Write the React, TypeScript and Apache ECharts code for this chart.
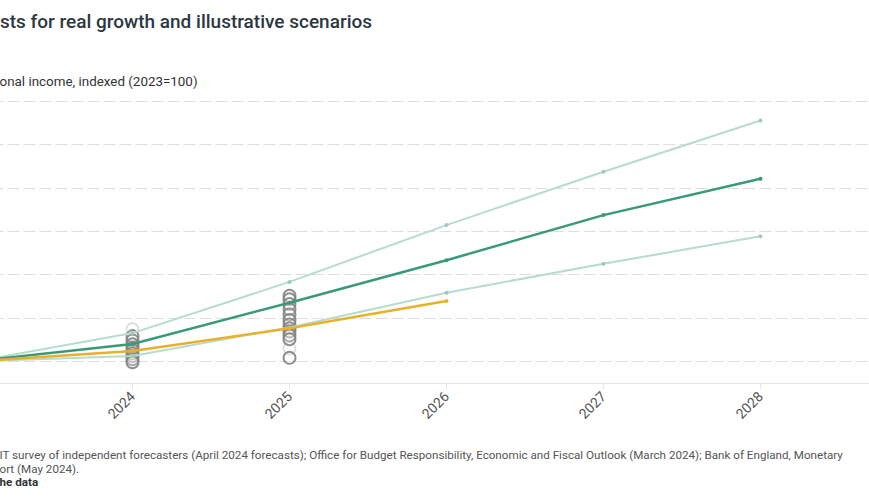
import React, { useEffect, useRef } from "react";
import * as echarts from "echarts";

// ---- Data (index, 2023 = 100) ----
const years = [2023, 2024, 2025, 2026, 2027, 2028];
const upperScenario = [100, 100.65, 101.83, 103.14, 104.37, 105.55];
const centralScenario = [100, 100.4, 101.35, 102.33, 103.37, 104.21];
const lowerScenario = [100, 100.12, 100.78, 101.58, 102.25, 102.88];
const officialYears = [2023, 2024, 2025, 2026];
const officialForecast = [100, 100.24, 100.76, 101.39];

const independent2024 = [100.58, 100.48, 100.39, 100.32, 100.25, 100.18, 100.12, 100.05, 99.98];
const independent2025 = [101.51, 101.43, 101.32, 101.2, 101.08, 100.95, 100.85, 100.76, 100.69, 100.6, 100.51, 100.08];
const faint2024 = [100.74];
const faint2025 = [100.3];

const xTicks = [2023, 2024, 2025, 2026, 2027, 2028, 2029];
const labelledYears = [2024, 2025, 2026, 2027, 2028];

// Visible parts of the texts (the picture is cropped on its left side)
const TITLE = "sts for real growth and illustrative scenarios";
const SUBTITLE = "onal income, indexed (2023=100)";
const SOURCE_1 =
  "IT survey of independent forecasters (April 2024 forecasts); Office for Budget Responsibility, Economic and Fiscal Outlook (March 2024); Bank of England, Monetary";
const SOURCE_2 = "ort (May 2024).";
const SOURCE_3 = "he data";

// The plot extends past the left and right edges of the picture.
const CROP_LEFT = 120;
const CHART_WIDTH = 1120;

const C_CENTRAL = "#3a9a77";
const C_LIGHT = "#b7dccb";
const C_LIGHT_DOT = "#9ecbb6";
const C_YELLOW = "#e8b12c";

export default function App() {
  const ref = useRef<HTMLDivElement>(null);

  useEffect(() => {
    if (!ref.current) return;
    const chart = echarts.init(ref.current, null, { renderer: "svg" });
    const pairs = (xs: number[], ys: number[]) => xs.map((x, i) => [x, ys[i]]);
    chart.setOption({
      animation: false,
      textStyle: { fontFamily: "Roboto" },
      grid: { left: 95.5, top: 101, width: 942, height: 282 },
      xAxis: {
        type: "value",
        min: xTicks[0],
        max: xTicks[xTicks.length - 1],
        interval: 1,
        axisLine: { show: true, lineStyle: { color: "#e4e4e4", width: 1 } },
        axisTick: { show: true, length: 6, lineStyle: { color: "#e4e4e4" } },
        splitLine: { show: false },
        axisLabel: {
          rotate: 45,
          margin: 11,
          color: "#555",
          fontSize: 14,
          fontFamily: "Roboto",
          formatter: (v: number) => (labelledYears.indexOf(v) >= 0 ? String(v) : ""),
        },
      },
      yAxis: {
        type: "value",
        min: 99.5,
        max: 106,
        splitNumber: 7,
        axisLine: { show: false },
        axisTick: { show: false },
        axisLabel: { show: false },
        splitLine: { show: true, lineStyle: { color: "#dedede", width: 1, type: [12, 4] } },
      },
      series: [
        {
          name: "Independent forecasts (faint)",
          type: "scatter",
          z: 1,
          symbol: "circle",
          symbolSize: 12,
          data: [...faint2024.map((v) => [2024, v]), ...faint2025.map((v) => [2025, v])],
          itemStyle: { color: "rgba(255,255,255,0)", borderColor: "#d2d2d2", borderWidth: 1.6 },
          emphasis: { disabled: true },
        },
        {
          name: "Independent forecasts",
          type: "scatter",
          z: 2,
          symbol: "circle",
          symbolSize: 12,
          data: [...independent2024.map((v) => [2024, v]), ...independent2025.map((v) => [2025, v])],
          itemStyle: { color: "rgba(255,255,255,0.25)", borderColor: "#828282", borderWidth: 1.9, opacity: 0.9 },
          emphasis: { disabled: true },
        },
        {
          name: "Lower scenario",
          type: "line",
          z: 3,
          data: pairs(years, lowerScenario),
          symbol: "circle",
          symbolSize: 4,
          lineStyle: { color: C_LIGHT, width: 2 },
          itemStyle: { color: C_LIGHT_DOT },
          emphasis: { disabled: true },
        },
        {
          name: "Upper scenario",
          type: "line",
          z: 3,
          data: pairs(years, upperScenario),
          symbol: "circle",
          symbolSize: 4,
          lineStyle: { color: C_LIGHT, width: 2 },
          itemStyle: { color: C_LIGHT_DOT },
          emphasis: { disabled: true },
        },
        {
          name: "Central scenario",
          type: "line",
          z: 4,
          data: pairs(years, centralScenario),
          symbol: "circle",
          symbolSize: 4,
          lineStyle: { color: C_CENTRAL, width: 2.5 },
          itemStyle: { color: C_CENTRAL },
          emphasis: { disabled: true },
        },
        {
          name: "Official forecast",
          type: "line",
          z: 5,
          data: pairs(officialYears, officialForecast),
          symbol: "circle",
          symbolSize: 4,
          lineStyle: { color: C_YELLOW, width: 2.5 },
          itemStyle: { color: C_YELLOW },
          emphasis: { disabled: true },
        },
      ],
      graphic: [
        {
          type: "text",
          x: CROP_LEFT + 0,
          y: 21,
          style: { text: TITLE, fontSize: 19, fontWeight: 500, fontFamily: "Roboto", fill: "#2c3741", verticalAlign: "middle" },
        },
        {
          type: "text",
          x: CROP_LEFT - 0.5,
          y: 81,
          style: { text: SUBTITLE, fontSize: 13.4, fontFamily: "Roboto", fill: "#333", verticalAlign: "middle" },
        },
        {
          type: "text",
          x: CROP_LEFT - 0.5,
          y: 455,
          style: { text: SOURCE_1, fontSize: 11.65, fontFamily: "Roboto", fill: "#555", verticalAlign: "middle" },
        },
        {
          type: "text",
          x: CROP_LEFT - 0.5,
          y: 469,
          style: { text: SOURCE_2, fontSize: 11.65, fontFamily: "Roboto", fill: "#555", verticalAlign: "middle" },
        },
        {
          type: "text",
          x: CROP_LEFT - 0.5,
          y: 482,
          style: { text: SOURCE_3, fontSize: 11.65, fontWeight: "bold", fontFamily: "Roboto", fill: "#333", verticalAlign: "middle" },
        },
      ],
    });
    return () => chart.dispose();
  }, []);

  return (
    <div style={{ position: "fixed", left: 0, top: 0, width: 869, height: 504, overflow: "hidden", background: "#fff" }}>
      <div ref={ref} style={{ position: "absolute", left: -CROP_LEFT, top: 0, width: CHART_WIDTH, height: 504 }} />
    </div>
  );
}
